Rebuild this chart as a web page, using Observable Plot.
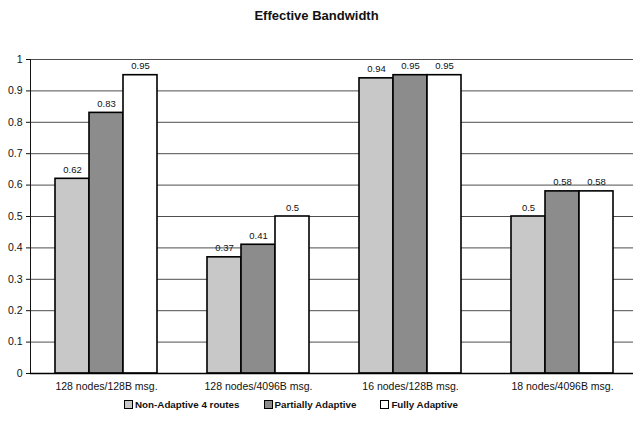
<!DOCTYPE html>
<html>
<head>
<meta charset="utf-8">
<script src="https://cdn.jsdelivr.net/npm/d3@7"></script>
<script src="https://cdn.jsdelivr.net/npm/@observablehq/plot@0.6"></script>
<style>
  body { margin: 0; background: #fff; font-family: "Liberation Sans", Arial, sans-serif; }
  #title { height: 30px; line-height: 32px; text-align: center; font-weight: bold; font-size: 13px; color: #111; }
  #legend { display: flex; gap: 24px; padding-left: 124px; font-size: 9.8px; font-weight: bold; color: #111; margin-top: 3px; }
  #legend span.item { display: inline-flex; align-items: center; }
  #legend span.sw { width: 7px; height: 7px; border: 1.2px solid #000; margin-right: 2px; display: inline-block; }
</style>
</head>
<body>
<div id="title">Effective Bandwidth</div>
<div id="chart"></div>
<div id="legend"></div>
<script>
// Configurations measured and the routing schemes compared
const categories = ["128 nodes/128B msg.", "128 nodes/4096B msg.", "16 nodes/128B msg.", "18 nodes/4096B msg."];
const series = ["Non-Adaptive 4 routes", "Partially Adaptive", "Fully Adaptive"];
const nonAdaptive = [0.62, 0.37, 0.94, 0.5];
const partiallyAdaptive = [0.83, 0.41, 0.95, 0.58];
const fullyAdaptive = [0.95, 0.5, 0.95, 0.58];
const yTicks = [0, 0.1, 0.2, 0.3, 0.4, 0.5, 0.6, 0.7, 0.8, 0.9, 1];
const fills = ["#c8c8c8", "#8c8c8c", "#ffffff"];

const values = [nonAdaptive, partiallyAdaptive, fullyAdaptive];
const data = [];
categories.forEach((c, i) => series.forEach((s, j) => data.push({category: c, series: s, value: values[j][i]})));

const chart = Plot.plot({
  width: 633,
  height: 366,
  marginTop: 29,
  marginBottom: 23,
  marginLeft: 30,
  marginRight: -5,
  style: {fontFamily: "Liberation Sans, Arial, sans-serif", fontSize: "10.5px", color: "#111"},
  fx: {domain: categories, padding: 0, label: null, tickSize: 0, tickPadding: 9},
  x: {domain: series, axis: null, paddingInner: 0, paddingOuter: 0.73},
  y: {domain: [0, 1], ticks: yTicks, tickFormat: d => String(+d.toFixed(1)), label: null,
      tickSize: 4, tickPadding: 4, line: true},
  color: {domain: series, range: fills},
  marks: [
    Plot.ruleY(yTicks.slice(1), {stroke: "#222", strokeWidth: 1, strokeOpacity: 0.8}),
    Plot.barY(data, {fx: "category", x: "series", y: "value", fill: "series", stroke: "#000", strokeWidth: 1.6}),
    Plot.text(data, {fx: "category", x: "series", y: "value", text: d => String(d.value), dy: -9, fontSize: 9.5, fill: "#111"}),
    Plot.ruleY([0], {stroke: "#000", strokeWidth: 1.5})
  ]
});
document.getElementById("chart").append(chart);

const legend = document.getElementById("legend");
series.forEach((s, j) => {
  const item = document.createElement("span");
  item.className = "item";
  const sw = document.createElement("span");
  sw.className = "sw";
  sw.style.background = fills[j];
  item.append(sw, document.createTextNode(s));
  legend.append(item);
});
</script>
</body>
</html>
